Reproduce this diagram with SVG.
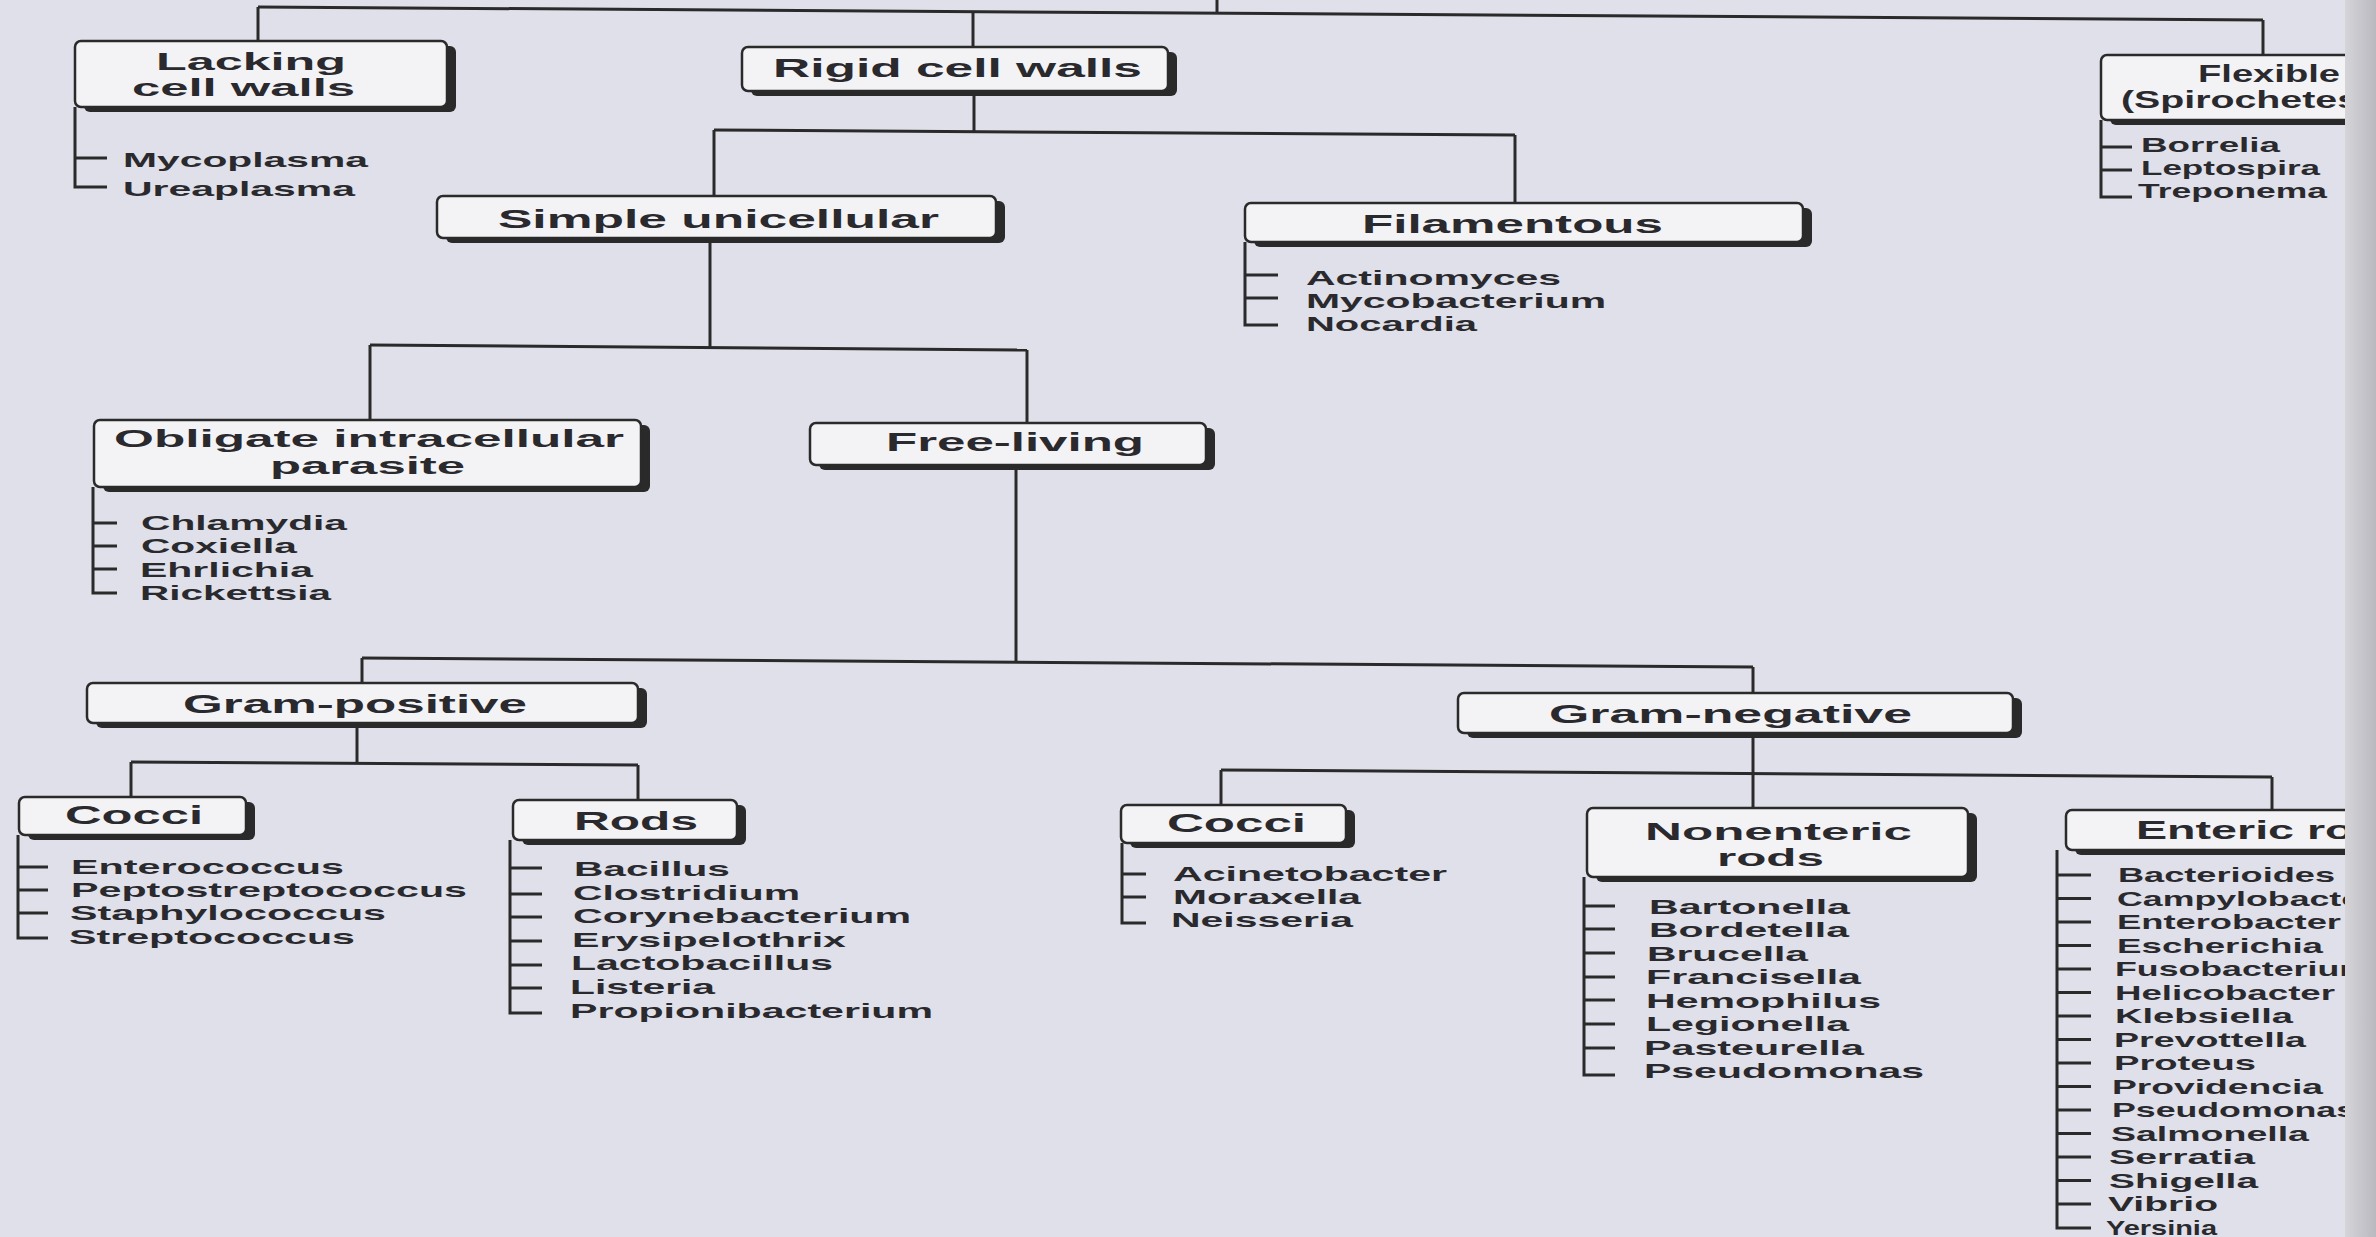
<svg xmlns="http://www.w3.org/2000/svg" width="2376" height="1237" viewBox="0 0 2376 1237">
<style>
.bx{fill:#f3f3f6;stroke:#2a2a2a;stroke-width:2.5}
.sh{fill:#2a2a2a}
.ln{stroke:#2a2a2a;stroke-width:3;fill:none}
.h{font-family:"Liberation Sans",Arial,sans-serif;font-weight:bold;font-size:26px;fill:#2a2a2e}
.h2{font-family:"Liberation Sans",Arial,sans-serif;font-weight:bold;font-size:23px;fill:#2a2a2e}
.t{font-family:"Liberation Sans",Arial,sans-serif;font-weight:bold;font-size:21px;fill:#2a2a2e}
</style>
<defs>
<linearGradient id="gut" x1="0" y1="0" x2="1" y2="0">
<stop offset="0" stop-color="#d4d4d9"/>
<stop offset="1" stop-color="#b9b9bf"/>
</linearGradient>
</defs>
<rect width="2376" height="1237" fill="#dfe0e9"/>

<g id="connectors" class="ln">
<path d="M258 7 L2263 20"/>
<path d="M1217 0 V13"/>
<path d="M258 7 V41"/>
<path d="M973 12 V47"/>
<path d="M2263 20 V55"/>
<path d="M974 93 V132"/>
<path d="M714 130 L1515 135"/>
<path d="M714 130 V196"/>
<path d="M1515 135 V203"/>
<path d="M710 240 V347"/>
<path d="M370 345 L1027 350"/>
<path d="M370 345 V420"/>
<path d="M1027 350 V423"/>
<path d="M1016 467 V661"/>
<path d="M362 658 L1753 667"/>
<path d="M362 658 V683"/>
<path d="M1753 667 V693"/>
<path d="M357 725 V763"/>
<path d="M131 762 L638 765"/>
<path d="M131 762 V797"/>
<path d="M638 765 V800"/>
<path d="M1753 735 V773"/>
<path d="M1221 770 L2272 777"/>
<path d="M1221 770 V805"/>
<path d="M1753 773 V808"/>
<path d="M2272 777 V810"/>
<path d="M75 107 V187 H107 M75 158 H107"/>
<path d="M2101 120 V197 H2132 M2101 147 H2132 M2101 170 H2132"/>
<path d="M1245 242 V325 H1278 M1245 275 H1278 M1245 298 H1278"/>
<path d="M93 487 V593 H117 M93 523 H117 M93 546 H117 M93 569 H117"/>
<path d="M18 835 V938 H48 M18 867 H48 M18 890 H48 M18 913 H48"/>
<path d="M510 840 V1013 H542 M510 868 H542 M510 894 H542 M510 917 H542 M510 941 H542 M510 965 H542 M510 988 H542"/>
<path d="M1122 843 V923 H1146 M1122 874 H1146 M1122 897 H1146"/>
<path d="M1584 877 V1075 H1615 M1584 906 H1615 M1584 929 H1615 M1584 953 H1615 M1584 977 H1615 M1584 1000 H1615 M1584 1024 H1615 M1584 1048 H1615"/>
<path d="M2057 850 V1228 H2091 M2057 875 H2091 M2057 898.5 H2091 M2057 922 H2091 M2057 945.5 H2091 M2057 969 H2091 M2057 992.5 H2091 M2057 1016 H2091 M2057 1039.5 H2091 M2057 1063 H2091 M2057 1086.5 H2091 M2057 1110 H2091 M2057 1133.5 H2091 M2057 1157 H2091 M2057 1180.5 H2091 M2057 1204 H2091"/>
</g>

<g id="node-lacking">
<rect class="sh" x="84" y="46" width="372" height="66" rx="6"/>
<rect class="bx" x="75" y="41" width="372" height="66" rx="6"/>
<text class="h2" x="156" y="70" textLength="190" lengthAdjust="spacingAndGlyphs">Lacking</text>
<text class="h2" x="132" y="96" textLength="223" lengthAdjust="spacingAndGlyphs">cell walls</text>
<text class="t" x="123" y="167" textLength="245" lengthAdjust="spacingAndGlyphs">Mycoplasma</text>
<text class="t" x="123" y="196" textLength="232" lengthAdjust="spacingAndGlyphs">Ureaplasma</text>
</g>

<g id="node-rigid">
<rect class="sh" x="751" y="52" width="426" height="44" rx="6"/>
<rect class="bx" x="742" y="47" width="426" height="44" rx="6"/>
<text class="h" x="773" y="77" textLength="369" lengthAdjust="spacingAndGlyphs">Rigid cell walls</text>
</g>

<g id="node-flexible">
<rect class="sh" x="2110" y="60" width="300" height="65" rx="6"/>
<rect class="bx" x="2101" y="55" width="300" height="65" rx="6"/>
<text class="h2" x="2198" y="82" textLength="142" lengthAdjust="spacingAndGlyphs">Flexible</text>
<text class="h2" x="2121" y="108" textLength="238" lengthAdjust="spacingAndGlyphs">(Spirochetes</text>
<text class="t" x="2141" y="152" textLength="139" lengthAdjust="spacingAndGlyphs">Borrelia</text>
<text class="t" x="2141" y="175" textLength="179" lengthAdjust="spacingAndGlyphs">Leptospira</text>
<text class="t" x="2138" y="198" textLength="189" lengthAdjust="spacingAndGlyphs">Treponema</text>
</g>

<g id="node-simple">
<rect class="sh" x="446" y="201" width="559" height="42" rx="6"/>
<rect class="bx" x="437" y="196" width="559" height="42" rx="6"/>
<text class="h" x="498" y="228" textLength="441" lengthAdjust="spacingAndGlyphs">Simple unicellular</text>
</g>

<g id="node-filamentous">
<rect class="sh" x="1254" y="208" width="558" height="39" rx="6"/>
<rect class="bx" x="1245" y="203" width="558" height="39" rx="6"/>
<text class="h" x="1362" y="233" textLength="301" lengthAdjust="spacingAndGlyphs">Filamentous</text>
<text class="t" x="1306" y="285" textLength="255" lengthAdjust="spacingAndGlyphs">Actinomyces</text>
<text class="t" x="1306" y="308" textLength="300" lengthAdjust="spacingAndGlyphs">Mycobacterium</text>
<text class="t" x="1306" y="331" textLength="171" lengthAdjust="spacingAndGlyphs">Nocardia</text>
</g>

<g id="node-obligate">
<rect class="sh" x="103" y="425" width="547" height="67" rx="6"/>
<rect class="bx" x="94" y="420" width="547" height="67" rx="6"/>
<text class="h2" x="114" y="447" textLength="510" lengthAdjust="spacingAndGlyphs">Obligate intracellular</text>
<text class="h2" x="270" y="474" textLength="195" lengthAdjust="spacingAndGlyphs">parasite</text>
<text class="t" x="141" y="530" textLength="206" lengthAdjust="spacingAndGlyphs">Chlamydia</text>
<text class="t" x="141" y="553" textLength="156" lengthAdjust="spacingAndGlyphs">Coxiella</text>
<text class="t" x="140" y="577" textLength="173" lengthAdjust="spacingAndGlyphs">Ehrlichia</text>
<text class="t" x="140" y="600" textLength="191" lengthAdjust="spacingAndGlyphs">Rickettsia</text>
</g>

<g id="node-freeliving">
<rect class="sh" x="819" y="428" width="396" height="42" rx="6"/>
<rect class="bx" x="810" y="423" width="396" height="42" rx="6"/>
<text class="h" x="886" y="451" textLength="258" lengthAdjust="spacingAndGlyphs">Free-living</text>
</g>

<g id="node-grampositive">
<rect class="sh" x="96" y="688" width="551" height="40" rx="6"/>
<rect class="bx" x="87" y="683" width="551" height="40" rx="6"/>
<text class="h" x="183" y="713" textLength="344" lengthAdjust="spacingAndGlyphs">Gram-positive</text>
</g>

<g id="node-gramnegative">
<rect class="sh" x="1467" y="698" width="555" height="40" rx="6"/>
<rect class="bx" x="1458" y="693" width="555" height="40" rx="6"/>
<text class="h" x="1549" y="723" textLength="363" lengthAdjust="spacingAndGlyphs">Gram-negative</text>
</g>

<g id="node-gp-cocci">
<rect class="sh" x="28" y="802" width="227" height="38" rx="6"/>
<rect class="bx" x="19" y="797" width="227" height="38" rx="6"/>
<text class="h" x="65" y="824" textLength="138" lengthAdjust="spacingAndGlyphs">Cocci</text>
<text class="t" x="71" y="874" textLength="273" lengthAdjust="spacingAndGlyphs">Enterococcus</text>
<text class="t" x="71" y="897" textLength="396" lengthAdjust="spacingAndGlyphs">Peptostreptococcus</text>
<text class="t" x="70" y="920" textLength="316" lengthAdjust="spacingAndGlyphs">Staphylococcus</text>
<text class="t" x="69" y="944" textLength="286" lengthAdjust="spacingAndGlyphs">Streptococcus</text>
</g>

<g id="node-gp-rods">
<rect class="sh" x="522" y="805" width="224" height="40" rx="6"/>
<rect class="bx" x="513" y="800" width="224" height="40" rx="6"/>
<text class="h" x="574" y="830" textLength="124" lengthAdjust="spacingAndGlyphs">Rods</text>
<text class="t" x="574" y="876" textLength="156" lengthAdjust="spacingAndGlyphs">Bacillus</text>
<text class="t" x="573" y="900" textLength="227" lengthAdjust="spacingAndGlyphs">Clostridium</text>
<text class="t" x="573" y="923" textLength="338" lengthAdjust="spacingAndGlyphs">Corynebacterium</text>
<text class="t" x="572" y="947" textLength="274" lengthAdjust="spacingAndGlyphs">Erysipelothrix</text>
<text class="t" x="571" y="970" textLength="262" lengthAdjust="spacingAndGlyphs">Lactobacillus</text>
<text class="t" x="570" y="994" textLength="145" lengthAdjust="spacingAndGlyphs">Listeria</text>
<text class="t" x="570" y="1018" textLength="363" lengthAdjust="spacingAndGlyphs">Propionibacterium</text>
</g>

<g id="node-gn-cocci">
<rect class="sh" x="1130" y="810" width="225" height="38" rx="6"/>
<rect class="bx" x="1121" y="805" width="225" height="38" rx="6"/>
<text class="h" x="1167" y="832" textLength="139" lengthAdjust="spacingAndGlyphs">Cocci</text>
<text class="t" x="1173" y="881" textLength="274" lengthAdjust="spacingAndGlyphs">Acinetobacter</text>
<text class="t" x="1173" y="904" textLength="188" lengthAdjust="spacingAndGlyphs">Moraxella</text>
<text class="t" x="1171" y="927" textLength="182" lengthAdjust="spacingAndGlyphs">Neisseria</text>
</g>

<g id="node-nonenteric">
<rect class="sh" x="1596" y="813" width="381" height="69" rx="6"/>
<rect class="bx" x="1587" y="808" width="381" height="69" rx="6"/>
<text class="h2" x="1645" y="840" textLength="267" lengthAdjust="spacingAndGlyphs">Nonenteric</text>
<text class="h2" x="1717" y="866" textLength="107" lengthAdjust="spacingAndGlyphs">rods</text>
<text class="t" x="1649" y="914" textLength="201" lengthAdjust="spacingAndGlyphs">Bartonella</text>
<text class="t" x="1649" y="937" textLength="200" lengthAdjust="spacingAndGlyphs">Bordetella</text>
<text class="t" x="1647" y="961" textLength="161" lengthAdjust="spacingAndGlyphs">Brucella</text>
<text class="t" x="1646" y="984" textLength="215" lengthAdjust="spacingAndGlyphs">Francisella</text>
<text class="t" x="1646" y="1008" textLength="235" lengthAdjust="spacingAndGlyphs">Hemophilus</text>
<text class="t" x="1646" y="1031" textLength="203" lengthAdjust="spacingAndGlyphs">Legionella</text>
<text class="t" x="1644" y="1055" textLength="220" lengthAdjust="spacingAndGlyphs">Pasteurella</text>
<text class="t" x="1644" y="1078" textLength="280" lengthAdjust="spacingAndGlyphs">Pseudomonas</text>
</g>

<g id="node-enteric">
<rect class="sh" x="2075" y="815" width="330" height="40" rx="6"/>
<rect class="bx" x="2066" y="810" width="330" height="40" rx="6"/>
<text class="h" x="2136" y="839" textLength="272" lengthAdjust="spacingAndGlyphs">Enteric rods</text>
<text class="t" x="2118" y="882" textLength="217" lengthAdjust="spacingAndGlyphs">Bacterioides</text>
<text class="t" x="2117" y="905.5" textLength="258" lengthAdjust="spacingAndGlyphs">Campylobacter</text>
<text class="t" x="2117" y="929" textLength="224" lengthAdjust="spacingAndGlyphs">Enterobacter</text>
<text class="t" x="2117" y="952.5" textLength="206" lengthAdjust="spacingAndGlyphs">Escherichia</text>
<text class="t" x="2115" y="976" textLength="256" lengthAdjust="spacingAndGlyphs">Fusobacterium</text>
<text class="t" x="2115" y="999.5" textLength="220" lengthAdjust="spacingAndGlyphs">Helicobacter</text>
<text class="t" x="2115" y="1023" textLength="178" lengthAdjust="spacingAndGlyphs">Klebsiella</text>
<text class="t" x="2114" y="1046.5" textLength="192" lengthAdjust="spacingAndGlyphs">Prevottella</text>
<text class="t" x="2114" y="1070" textLength="142" lengthAdjust="spacingAndGlyphs">Proteus</text>
<text class="t" x="2112" y="1093.5" textLength="211" lengthAdjust="spacingAndGlyphs">Providencia</text>
<text class="t" x="2112" y="1117" textLength="244" lengthAdjust="spacingAndGlyphs">Pseudomonas</text>
<text class="t" x="2111" y="1140.5" textLength="198" lengthAdjust="spacingAndGlyphs">Salmonella</text>
<text class="t" x="2109" y="1164" textLength="146" lengthAdjust="spacingAndGlyphs">Serratia</text>
<text class="t" x="2109" y="1187.5" textLength="149" lengthAdjust="spacingAndGlyphs">Shigella</text>
<text class="t" x="2108" y="1211" textLength="110" lengthAdjust="spacingAndGlyphs">Vibrio</text>
<text class="t" x="2106" y="1234.5" textLength="111" lengthAdjust="spacingAndGlyphs">Yersinia</text>
</g>

<rect x="2345" y="0" width="31" height="1237" fill="url(#gut)"/>
</svg>
